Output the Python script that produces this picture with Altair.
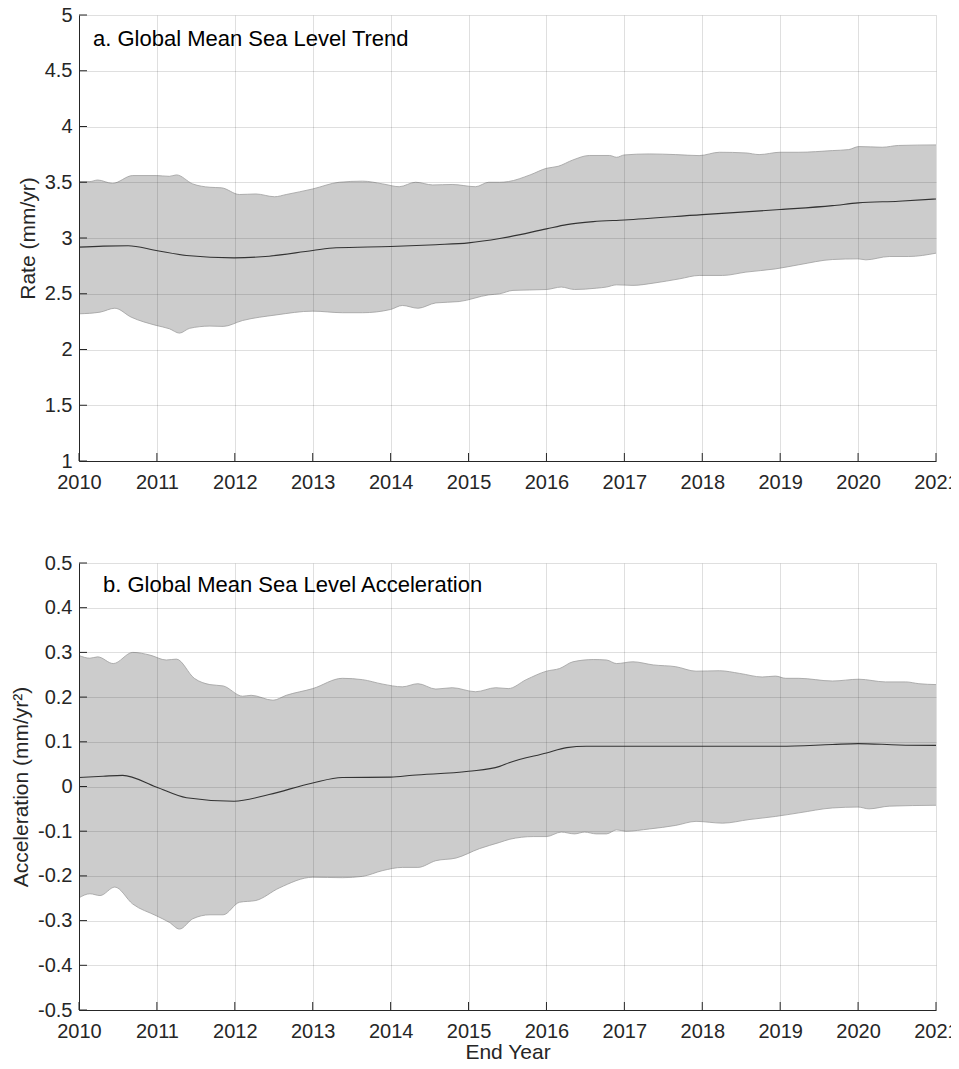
import altair as alt
import pandas as pd

FONT = "Liberation Sans"
INK = "#262626"
W = 857
H_A = 446
H_B = 447

x_ticks = [2010, 2011, 2012, 2013, 2014, 2015, 2016, 2017, 2018, 2019, 2020, 2021]
a_y_ticks = [1, 1.5, 2, 2.5, 3, 3.5, 4, 4.5, 5]
b_y_ticks = [-0.5, -0.4, -0.3, -0.2, -0.1, 0, 0.1, 0.2, 0.3, 0.4, 0.5]

# ---------------- Panel a: trend (mm/yr) ----------------
a_upper_years = [2010.00, 2010.14, 2010.24, 2010.43, 2010.69, 2010.99, 2011.16, 2011.25, 2011.46,
                 2011.68, 2011.83, 2012.06, 2012.27, 2012.51, 2012.66, 2013.00, 2013.34, 2013.64,
                 2013.90, 2014.11, 2014.32, 2014.54, 2014.79, 2015.09, 2015.26, 2015.40, 2015.51,
                 2015.79, 2016.00, 2016.15, 2016.34, 2016.55, 2016.81, 2016.90, 2017.00, 2017.32,
                 2017.66, 2017.96, 2018.22, 2018.56, 2018.73, 2019.00, 2019.24, 2019.67, 2019.88,
                 2020.01, 2020.31, 2020.52, 2021.00]
a_upper_vals = [3.506, 3.506, 3.52, 3.49, 3.56, 3.56, 3.553, 3.566, 3.485,
                3.455, 3.45, 3.39, 3.395, 3.37, 3.39, 3.44, 3.50, 3.51,
                3.485, 3.46, 3.50, 3.476, 3.48, 3.46, 3.50, 3.50, 3.506,
                3.566, 3.625, 3.643, 3.70, 3.74, 3.74, 3.724, 3.745, 3.754,
                3.748, 3.739, 3.769, 3.763, 3.748, 3.769, 3.769, 3.784, 3.793,
                3.82, 3.814, 3.83, 3.835]

a_lower_years = [2010.00, 2010.27, 2010.46, 2010.67, 2010.99, 2011.16, 2011.29, 2011.42, 2011.68,
                 2011.85, 2012.10, 2012.53, 2013.00, 2013.38, 2013.64, 2014.00, 2014.15, 2014.35,
                 2014.58, 2014.88, 2015.26, 2015.40, 2015.57, 2016.00, 2016.19, 2016.36, 2016.64,
                 2016.77, 2016.90, 2017.11, 2017.37, 2017.71, 2017.96, 2018.26, 2018.56, 2018.94,
                 2019.24, 2019.67, 2020.00, 2020.10, 2020.40, 2020.65, 2021.00]
a_lower_vals = [2.32, 2.335, 2.37, 2.29, 2.216, 2.186, 2.147, 2.19, 2.21,
                2.207, 2.26, 2.31, 2.344, 2.33, 2.33, 2.359, 2.395, 2.37,
                2.418, 2.43, 2.49, 2.50, 2.53, 2.538, 2.56, 2.538, 2.55,
                2.56, 2.58, 2.575, 2.595, 2.634, 2.664, 2.664, 2.694, 2.723,
                2.76, 2.807, 2.813, 2.804, 2.834, 2.834, 2.864]

a_mean_years = [2010.00, 2010.31, 2010.63, 2010.99, 2011.38, 2011.99, 2012.44, 2013.00, 2013.30,
                2014.00, 2014.58, 2015.00, 2015.40, 2015.52, 2016.00, 2016.26, 2016.60, 2017.00,
                2018.00, 2019.00, 2019.67, 2020.00, 2020.52, 2021.00]
a_mean_vals = [2.918, 2.927, 2.93, 2.888, 2.843, 2.822, 2.837, 2.888, 2.912,
               2.924, 2.94, 2.956, 2.995, 3.01, 3.082, 3.12, 3.147, 3.162,
               3.21, 3.255, 3.29, 3.315, 3.33, 3.35]

# ---------------- Panel b: acceleration (mm/yr^2) ----------------
b_upper_years = [2010.00, 2010.14, 2010.24, 2010.44, 2010.69, 2010.91, 2011.12, 2011.25, 2011.48,
                 2011.68, 2011.85, 2012.10, 2012.21, 2012.49, 2012.66, 2013.00, 2013.38, 2013.64,
                 2013.90, 2014.15, 2014.35, 2014.58, 2014.79, 2015.09, 2015.35, 2015.51, 2015.74,
                 2016.00, 2016.17, 2016.34, 2016.60, 2016.77, 2016.90, 2017.11, 2017.37, 2017.66,
                 2017.92, 2018.22, 2018.48, 2018.77, 2018.94, 2019.07, 2019.24, 2019.67, 2020.01,
                 2020.35, 2020.61, 2020.78, 2021.00]
b_upper_vals = [0.293, 0.287, 0.29, 0.275, 0.30, 0.294, 0.283, 0.285, 0.242,
                0.228, 0.225, 0.202, 0.204, 0.193, 0.204, 0.219, 0.242, 0.239,
                0.229, 0.223, 0.23, 0.218, 0.221, 0.212, 0.221, 0.219, 0.239,
                0.258, 0.264, 0.279, 0.284, 0.283, 0.275, 0.279, 0.272, 0.268,
                0.258, 0.259, 0.253, 0.245, 0.247, 0.242, 0.242, 0.236, 0.24,
                0.234, 0.234, 0.23, 0.228]

b_lower_years = [2010.00, 2010.14, 2010.27, 2010.46, 2010.69, 2010.99, 2011.16, 2011.29, 2011.46,
                 2011.68, 2011.85, 2012.06, 2012.27, 2012.57, 2013.00, 2013.38, 2013.64, 2013.90,
                 2014.15, 2014.35, 2014.58, 2014.84, 2015.14, 2015.40, 2015.53, 2015.83, 2016.00,
                 2016.19, 2016.36, 2016.49, 2016.64, 2016.77, 2016.90, 2017.02, 2017.32, 2017.66,
                 2017.92, 2018.26, 2018.60, 2018.94, 2019.24, 2019.67, 2020.00, 2020.14, 2020.40,
                 2021.00]
b_lower_vals = [-0.249, -0.24, -0.244, -0.225, -0.263, -0.289, -0.304, -0.319, -0.296,
                -0.287, -0.287, -0.259, -0.255, -0.227, -0.203, -0.204, -0.201, -0.188,
                -0.181, -0.181, -0.166, -0.16, -0.139, -0.125, -0.118, -0.112, -0.112,
                -0.102, -0.106, -0.102, -0.106, -0.106, -0.097, -0.10, -0.095, -0.087,
                -0.078, -0.082, -0.074, -0.067, -0.059, -0.048, -0.046, -0.05, -0.044,
                -0.042]

b_mean_years = [2010.00, 2010.31, 2010.56, 2010.99, 2011.38, 2011.99, 2012.44, 2013.00, 2013.38,
                2014.00, 2014.28, 2015.00, 2015.40, 2015.52, 2016.00, 2016.26, 2016.51, 2017.00,
                2018.00, 2019.00, 2019.67, 2020.00, 2020.52, 2021.00]
b_mean_vals = [0.02, 0.023, 0.025, -0.001, -0.025, -0.033, -0.018, 0.008, 0.02,
               0.021, 0.025, 0.034, 0.045, 0.053, 0.075, 0.087, 0.09, 0.09,
               0.09, 0.09, 0.094, 0.096, 0.093, 0.092]


def make_panel(upper_years, upper_vals, lower_years, lower_vals, mean_years, mean_vals,
               ydom, yticks, ytitle, label, label_x, label_y, xtitle, h):
    xs = alt.Scale(domain=[2010, 2021], nice=False, zero=False)
    ys = alt.Scale(domain=ydom, nice=False, zero=False)
    common = dict(
        ticks=False, tickSize=0, domainColor=INK, domainWidth=1,
        grid=True, gridColor=INK, gridOpacity=0.15, gridWidth=1,
        labelFont=FONT, labelFontSize=20, labelColor=INK,
        titleFont=FONT, titleFontSize=21, titleColor=INK, titleFontWeight="normal",
        labelOverlap=False, zindex=1,
    )
    xaxis = alt.Axis(values=x_ticks, format="d", labelFlush=False, labelPadding=11,
                     titlePadding=0, title=xtitle, **common)
    yaxis = alt.Axis(values=yticks, labelExpr="datum.value + ''", labelPadding=7,
                     titlePadding=6, title=ytitle, **common)
    X = alt.X("year:Q", scale=xs, axis=xaxis)
    Y = alt.Y("val:Q", scale=ys, axis=yaxis)

    up = pd.DataFrame({"year": upper_years, "val": upper_vals})
    lo = pd.DataFrame({"year": lower_years, "val": lower_vals})
    mn = pd.DataFrame({"year": mean_years, "val": mean_vals})

    gray = alt.Chart(up).mark_area(color="#cccccc", interpolate="monotone").encode(
        x=X, y=Y, y2=alt.datum(ydom[0]))
    white = alt.Chart(lo).mark_area(color="#ffffff", interpolate="monotone").encode(
        x=X, y=Y, y2=alt.datum(ydom[0]))
    up_edge = alt.Chart(up).mark_line(color="#9e9e9e", strokeWidth=0.8,
                                      interpolate="monotone").encode(x=X, y=Y)
    lo_edge = alt.Chart(lo).mark_line(color="#9e9e9e", strokeWidth=0.8,
                                      interpolate="monotone").encode(x=X, y=Y)
    mean = alt.Chart(mn).mark_line(color="#333333", strokeWidth=1.1,
                                   interpolate="monotone").encode(x=X, y=Y)
    xt = alt.Chart(pd.DataFrame({"year": x_ticks})).mark_rule(color=INK, strokeWidth=1).encode(
        x=X, y=alt.value(h - 8), y2=alt.value(h))
    yt = alt.Chart(pd.DataFrame({"val": yticks})).mark_rule(color=INK, strokeWidth=1).encode(
        y=Y, x=alt.value(0), x2=alt.value(8))
    txt = alt.Chart(pd.DataFrame({"t": [label]})).mark_text(
        align="left", baseline="alphabetic", font=FONT, fontSize=22, color="#000000"
    ).encode(x=alt.value(label_x), y=alt.value(label_y), text="t:N")

    return alt.layer(gray, white, up_edge, lo_edge, mean, xt, yt, txt).properties(width=W, height=h)


pa = make_panel(a_upper_years, a_upper_vals, a_lower_years, a_lower_vals, a_mean_years, a_mean_vals,
                [1, 5], a_y_ticks, "Rate (mm/yr)", "a. Global Mean Sea Level Trend", 14, 31, None, H_A)
pb = make_panel(b_upper_years, b_upper_vals, b_lower_years, b_lower_vals, b_mean_years, b_mean_vals,
                [-0.5, 0.5], b_y_ticks, "Acceleration (mm/yr²)", "b. Global Mean Sea Level Acceleration",
                24, 29, "End Year", H_B)

chart = alt.vconcat(pa, pb, spacing=61).resolve_scale(y="independent").properties(
    padding={"left": 2, "top": -3, "right": -8, "bottom": -2}
).configure_view(stroke=None)

chart.save("out.html", embed_options={"renderer": "svg", "actions": False})
